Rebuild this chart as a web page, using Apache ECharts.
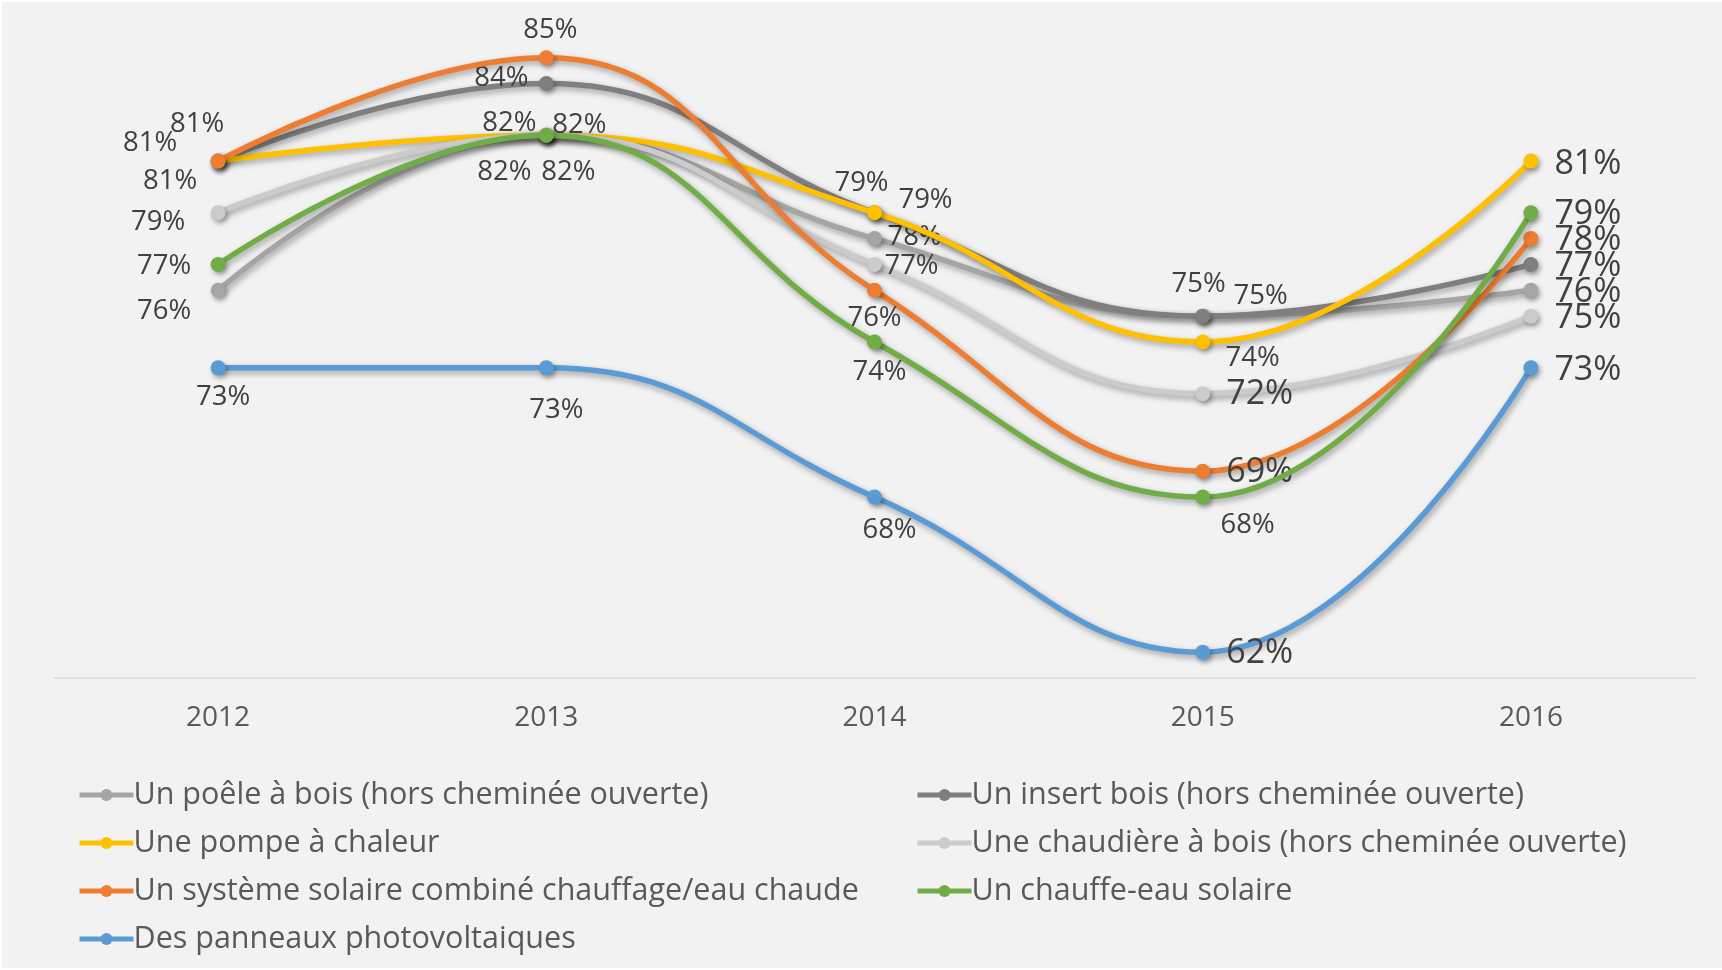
<!DOCTYPE html>
<html>
<head>
<meta charset="utf-8">
<script src="https://cdn.jsdelivr.net/npm/echarts@6/dist/echarts.min.js"></script>
<style>
    html, body { margin: 0; padding: 0; background: #ffffff; }
    #chart { position: absolute; left: 2px; top: 2px; width: 1720px; height: 966px; background: #f2f2f2; }
</style>
</head>
<body>
<div id="chart"></div>
<script>
    // années
    const years = ['2012', '2013', '2014', '2015', '2016'];

    // taux (%) par équipement
    const poele      = [76, 82, 78, 75, 76];
    const insert     = [81, 84, 79, 75, 77];
    const pompe      = [81, 82, 79, 74, 81];
    const chaudiere  = [79, 82, 77, 72, 75];
    const systemeSol = [81, 85, 76, 69, 78];
    const chauffeEau = [77, 82, 74, 68, 79];
    const panneaux   = [73, 73, 68, 62, 73];

    const names = [
        'Un poêle à bois (hors cheminée ouverte)',
        'Un insert bois (hors cheminée ouverte)',
        'Une pompe à chaleur',
        'Une chaudière à bois (hors cheminée ouverte)',
        'Un système solaire combiné chauffage/eau chaude',
        'Un chauffe-eau solaire',
        'Des panneaux photovoltaiques'
    ];
    const values = [poele, insert, pompe, chaudiere, systemeSol, chauffeEau, panneaux];
    const colors = ['#a5a5a5', '#7f7f7f', '#ffc000', '#cbcbcb', '#ed7d31', '#70ad47', '#5b9bd5'];

    // décalage des étiquettes par rapport au point (px)
    const labelOffsets = [
        [[-54, 21], [-42, 37], [40, -1], [58, -20], [57, 2]],
        [[-21, -37], [-45, -5], [-13, -30], [-4, -32], [57, 2]],
        [[-68, -18], [-37, -12], [51, -13], [50, 16], [57, 3]],
        [[-60, 9], [22, 37], [37, 2], [57, 1], [57, 2]],
        [[-48, 20], [4, -28], [0, 28], [57, 1], [57, 2]],
        [[-54, 2], [33, -10], [5, 30], [45, 28], [57, 2]],
        [[5, 29], [10, 42], [15, 33], [57, 1], [57, 2]]
    ];
    // étiquettes en grand (colonnes 2015/2016 d'Excel)
    const bigLabels = [
        [0, 0, 0, 0, 1],
        [0, 0, 0, 0, 1],
        [0, 0, 0, 0, 1],
        [0, 0, 0, 1, 1],
        [0, 0, 0, 1, 1],
        [0, 0, 0, 0, 1],
        [0, 0, 0, 1, 1]
    ];

    const font = '"Open Sans", "Noto Sans", sans-serif';

    const series = values.map(function (vals, s) {
        return {
            name: names[s],
            type: 'line',
            smooth: 0.45,
            symbol: 'circle',
            symbolSize: 15,
            z: 2 + s,
            lineStyle: {
                width: 5.5,
                color: colors[s],
                shadowColor: 'rgba(0,0,0,0.35)',
                shadowBlur: 6,
                shadowOffsetX: 2,
                shadowOffsetY: 3
            },
            itemStyle: {
                color: colors[s],
                shadowColor: 'rgba(0,0,0,0.35)',
                shadowBlur: 5,
                shadowOffsetX: 2,
                shadowOffsetY: 3
            },
            emphasis: { disabled: true },
            data: vals.map(function (v, i) {
                return {
                    value: v,
                    label: {
                        show: true,
                        position: 'inside',
                        offset: labelOffsets[s][i],
                        align: 'center',
                        verticalAlign: 'middle',
                        formatter: '{c}%',
                        color: '#404040',
                        fontFamily: font,
                        fontSize: bigLabels[s][i] ? 34 : 27.5
                    }
                };
            })
        };
    });

    const legendCommon = {
        orient: 'vertical',
        itemWidth: 54,
        itemHeight: 15,
        itemGap: 16,
        lineStyle: { width: 5, shadowBlur: 0, shadowOffsetX: 0, shadowOffsetY: 0 },
        itemStyle: { shadowBlur: 0, shadowOffsetX: 0, shadowOffsetY: 0 },
        textStyle: { color: '#595959', fontSize: 30.5, fontFamily: font, lineHeight: 32, padding: [0, 0, 0, -5] }
    };

    const chart = echarts.init(document.getElementById('chart'));
    chart.setOption({
        animation: false,
        backgroundColor: '#f2f2f2',
        grid: { left: 52, right: 27, top: 4, bottom: 290 },
        legend: [
            Object.assign({}, legendCommon, { left: 70, top: 772, data: [names[0], names[2], names[4], names[6]] }),
            Object.assign({}, legendCommon, { left: 908, top: 772, data: [names[1], names[3], names[5]] })
        ],
        xAxis: {
            type: 'category',
            data: years,
            boundaryGap: true,
            axisLine: { lineStyle: { color: '#d9d9d9', width: 1.5 } },
            axisTick: { show: false },
            axisLabel: { color: '#595959', fontSize: 28, fontFamily: font, margin: 26 }
        },
        yAxis: {
            type: 'value',
            min: 61,
            max: 87,
            show: false,
            splitLine: { show: false }
        },
        series: series
    });
</script>
</body>
</html>
